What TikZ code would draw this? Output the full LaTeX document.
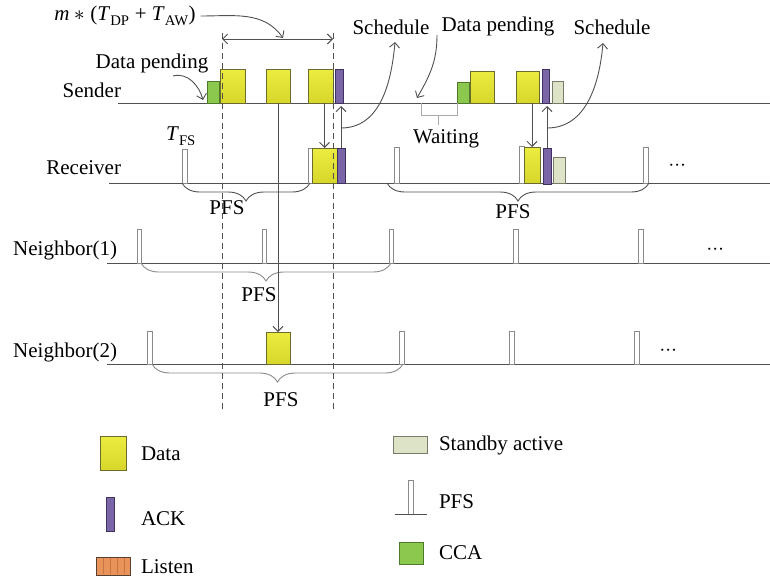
\documentclass[tikz,border=0pt]{standalone}
\usepackage{fontspec}
\usepackage{unicode-math}
\setmainfont{Liberation Serif}
\usetikzlibrary{arrows.meta,decorations.pathreplacing,calc}

\definecolor{yellowtop}{HTML}{EBEB40}
\definecolor{yellowbot}{HTML}{D6D62B}
\definecolor{dataedge}{HTML}{6B6B30}
\definecolor{ackfill}{HTML}{7A66A6}
\definecolor{ackedge}{HTML}{3E3360}
\definecolor{ccafill}{HTML}{8CC84E}
\definecolor{ccaedge}{HTML}{4D7A2A}
\definecolor{standbyfill}{HTML}{DCE3C6}
\definecolor{standbyedge}{HTML}{7A7A6A}
\definecolor{pfsedge}{HTML}{8A8A8A}
\definecolor{listenfill}{HTML}{E8935A}
\definecolor{listenstripe}{HTML}{C97440}
\definecolor{listenedge}{HTML}{5A4030}
\definecolor{linecol}{HTML}{505050}
\definecolor{bracegray}{HTML}{8A8A8A}
\definecolor{waitgray}{HTML}{AAAAAA}

\newcommand{\blk}[6]{\node[#2, anchor=north west, minimum width={(#5-#3)*1pt}, minimum height={(#6-#4)*1pt}] (#1) at (#3,#4) {};}

\tikzset{
  tline/.style={draw=linecol, line width=0.9pt},
  blkbase/.style={inner sep=0pt, outer sep=0pt, line width=0.9pt},
  datab/.style={blkbase, draw=dataedge, top color=yellowtop, bottom color=yellowbot},
  ackb/.style={blkbase, draw=ackedge, fill=ackfill},
  ccab/.style={blkbase, draw=ccaedge, fill=ccafill},
  standbyb/.style={blkbase, draw=standbyedge, fill=standbyfill},
  pfsb/.style={blkbase, draw=pfsedge, fill=white, line width=0.8pt},
  listenb/.style={blkbase, draw=listenedge, fill=listenfill},
  arr/.style={draw=linecol, line width=0.9pt, -{Straight Barb[length=5pt,width=10pt]}},
  dblarr/.style={draw=linecol, line width=0.9pt, {Straight Barb[length=5pt,width=10pt]}-{Straight Barb[length=5pt,width=10pt]}},
  dashv/.style={draw=linecol, line width=0.9pt, dash pattern=on 6pt off 4pt},
  bracedark/.style={draw=linecol, line width=0.9pt, decorate, decoration={brace, mirror, amplitude=18pt}},
  bracelight/.style={draw=bracegray, line width=0.9pt, decorate, decoration={brace, mirror, amplitude=18pt}},
  waitline/.style={draw=waitgray, line width=0.9pt},
  lbl/.style={inner sep=0pt, outer sep=0pt},
}

\begin{document}
\begin{tikzpicture}[x=1pt,y=-1pt, font=\fontsize{21}{25}\selectfont]
\useasboundingbox (0,0) rectangle (770,584);

% time lines
\coordinate (sL) at (118,103); \coordinate (sR) at (770,103);
\coordinate (rL) at (109,183); \coordinate (rR) at (770,183);
\coordinate (aL) at (107,263); \coordinate (aR) at (770,263);
\coordinate (bL) at (107,364); \coordinate (bR) at (770,364);
\draw[tline] (sL) -- (sR);
\draw[tline] (rL) -- (rR);
\draw[tline] (aL) -- (aR);
\draw[tline] (bL) -- (bR);

% row labels
\node[lbl, anchor=east] (lsend) at (121,90) {Sender};
\node[lbl, anchor=east] (lrec) at (121,168) {Receiver};
\node[lbl, anchor=east] (ln1) at (117,250) {Neighbor(1)};
\node[lbl, anchor=east] (ln2) at (117,352) {Neighbor(2)};

% sender blocks
\blk{scca1}{ccab}{207}{81}{219}{103}
\blk{sd1}{datab}{220}{69}{245}{103}
\blk{sd2}{datab}{266}{69}{290}{103}
\blk{sd3}{datab}{308}{69}{333}{103}
\blk{sa1}{ackb}{335}{69}{343}{103}
\blk{scca2}{ccab}{457}{82}{469}{103}
\blk{sd4}{datab}{470}{71}{494}{103}
\blk{sd5}{datab}{516}{71}{539}{103}
\blk{sa2}{ackb}{542}{69}{549}{103}
\blk{ssb}{standbyb}{552}{81}{563}{103}

% receiver blocks
\blk{rp1}{pfsb}{182}{149}{187}{183}
\blk{rp2}{pfsb}{308}{148}{312}{183}
\blk{rd1}{datab}{312}{148}{337}{183}
\blk{ra1}{ackb}{337}{148}{345}{183}
\blk{rp3}{pfsb}{394}{147}{399}{183}
\blk{rp4}{pfsb}{519}{146}{524}{183}
\blk{rd2}{datab}{524}{147}{540}{183}
\blk{ra2}{ackb}{543}{148}{551}{184}
\blk{rsb}{standbyb}{553}{157}{565}{183}
\blk{rp5}{pfsb}{643}{147}{648}{183}

% neighbor 1
\blk{ap1}{pfsb}{137}{229}{141}{263}
\blk{ap2}{pfsb}{262}{229}{266}{263}
\blk{ap3}{pfsb}{389}{229}{393}{263}
\blk{ap4}{pfsb}{513}{229}{518}{263}
\blk{ap5}{pfsb}{638}{229}{643}{263}

% neighbor 2
\blk{bp1}{pfsb}{147}{331}{152}{364}
\blk{bd1}{datab}{266}{332}{290}{364}
\blk{bp2}{pfsb}{399}{331}{404}{364}
\blk{bp3}{pfsb}{509}{331}{514}{364}
\blk{bp4}{pfsb}{634}{331}{639}{364}

% dots
\node[lbl] (rdots) at (678,167) {$\cdots$};
\node[lbl] (adots) at (716,251) {$\cdots$};
\node[lbl] (bdots) at (669,352) {$\cdots$};

% braces
\draw[bracedark] (182,183) -- (310,183);
\draw[bracedark] (387,183) -- (649,183);
\draw[bracelight] (141,263) -- (391,263);
\draw[bracelight] (152,364) -- (403,364);
\node[lbl] (pfsr1) at (227,208) {PFS};
\node[lbl] (pfsr2) at (513,212) {PFS};
\node[lbl] (pfsa) at (259,295) {PFS};
\node[lbl] (pfsb) at (281,400) {PFS};

% waiting bracket
\coordinate (w1) at (421,103); \coordinate (w2) at (421,115);
\coordinate (w3) at (457,115); \coordinate (w4) at (457,103);
\coordinate (w5) at (438,115); \coordinate (w6) at (438,125);
\draw[waitline] (w1) -- (w2) -- (w3) -- (w4);
\draw[waitline] (w5) -- (w6);
\node[lbl] (wait) at (446,139) {Waiting};

% T_FS
\node[lbl] (tfs) at (181,136) {\textit{T}\textsubscript{FS}};

% transmissions
\draw[arr] (sd2.south) -- (bd1.north);
\draw[arr] (rd1.north |- sd3.south) -- (rd1.north);
\coordinate (up1) at (341,106);
\draw[arr] (ra1.north) -- (up1);
\draw[arr] (rd2.north |- sd5.south) -- (rd2.north);
\coordinate (up2) at (547,106);
\draw[arr] (ra2.north) -- (up2);

% dashed window
\coordinate (d1t) at (222,33); \coordinate (d1b) at (222,410);
\coordinate (d2t) at (333,33); \coordinate (d2b) at (333,410);
\draw[dashv] (d1t) -- (d1b);
\draw[dashv] (d2t) -- (d2b);
\coordinate (wa) at (222,39); \coordinate (wb) at (333,39);
\draw[dblarr] (wa) -- (wb);

% top labels
\node[lbl] (mlab) at (125,16) {\textit{m} $\ast$ (\textit{T}\textsubscript{DP} + \textit{T}\textsubscript{AW})};
\coordinate (mtip) at (283,38);
\draw[arr] (mlab.east) ++(5,0) to[out=0,in=125] (mtip);

\node[lbl] (dp1) at (152,63) {Data pending};
\coordinate (dp1s) at (173,76); \coordinate (dp1t) at (203,100);
\draw[arr] (dp1s) to[out=15,in=105] (dp1t);

\node[lbl] (sch1) at (391,27) {Schedule};
\coordinate (sc1s) at (341,128); \coordinate (sc1t) at (395,42);
\draw[arr] (sc1s) to[out=0,in=-95] (sc1t);

\node[lbl] (dp2) at (498,26) {Data pending};
\coordinate (dp2s) at (437,35); \coordinate (dp2t) at (417,98);
\draw[arr] (dp2s) to[out=-90,in=60] (dp2t);

\node[lbl] (sch2) at (612,27) {Schedule};
\coordinate (sc2s) at (547,128); \coordinate (sc2t) at (603,43);
\draw[arr] (sc2s) to[out=0,in=-95] (sc2t);

% legend
\blk{lgdata}{datab}{100}{436}{126}{470}
\node[lbl, anchor=west] (tdata) at (141,454) {Data};
\blk{lgack}{ackb}{106}{497}{114}{531}
\node[lbl, anchor=west] (tack) at (141,519) {ACK};
\blk{lglisten}{listenb}{96}{557}{130}{575}
\foreach \xx in {103,110,117,124} {\draw[listenstripe, line width=0.6pt] (\xx,558) -- (\xx,574);}
\draw[listenedge, line width=0.9pt] (lglisten.north west) rectangle (lglisten.south east);
\node[lbl, anchor=west] (tlisten) at (141,567) {Listen};
\blk{lgsb}{standbyb}{393}{436}{427}{453}
\node[lbl, anchor=west] (tsb) at (439,445) {Standby active};
\blk{lgpfs}{pfsb}{408}{480}{413}{514}
\coordinate (lpa) at (395,514); \coordinate (lpb) at (427,514);
\draw[tline] (lpa) -- (lpb);
\node[lbl, anchor=west] (tpfs) at (439,502) {PFS};
\blk{lgcca}{ccab}{399}{542}{423}{564}
\node[lbl, anchor=west] (tcca) at (439,553) {CCA};

\end{tikzpicture}
\end{document}
